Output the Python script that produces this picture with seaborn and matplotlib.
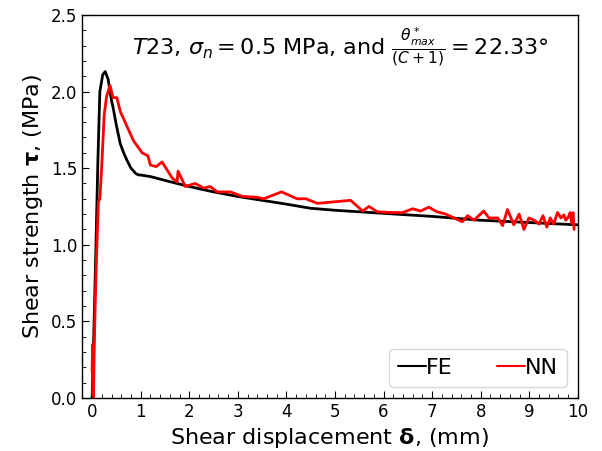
import numpy as np
import pandas as pd
import seaborn as sns
import matplotlib
matplotlib.use("Agg")
import matplotlib.pyplot as plt
from matplotlib.ticker import MultipleLocator

# FE curve (black)
fe_x = [0.0, 0.03, 0.05, 0.08, 0.12, 0.16, 0.22, 0.27, 0.33, 0.40, 0.43, 0.50, 0.58, 0.65, 0.72,
        0.80, 0.90, 0.95, 1.0, 1.2, 1.5, 2.0, 2.5, 3.0, 3.5, 4.0, 4.5, 5.0, 6.0, 7.0, 8.0, 9.0, 10.0]
fe_y = [0.0, 0.35, 0.6, 1.0, 1.55, 2.0, 2.11, 2.13, 2.08, 1.94, 1.90, 1.78, 1.66, 1.60, 1.55,
        1.50, 1.465, 1.456, 1.455, 1.445, 1.42, 1.38, 1.345, 1.315, 1.29, 1.265, 1.238, 1.225,
        1.205, 1.185, 1.16, 1.145, 1.13]

# NN curve (red)
nn_x = [0.0, 0.01, 0.015, 0.02, 0.025, 0.03, 0.04, 0.06, 0.08, 0.10, 0.13, 0.16, 0.20, 0.25, 0.30,
        0.37, 0.43, 0.51, 0.58, 0.68, 0.85, 1.03, 1.15, 1.20, 1.32, 1.44, 1.65, 1.75, 1.77,
        1.92, 2.12, 2.30, 2.43, 2.58, 2.85, 3.10, 3.40, 3.53, 3.90, 4.22, 4.40, 4.64, 5.32,
        5.57, 5.70, 5.87, 6.20, 6.39, 6.60, 6.76, 6.93, 7.10, 7.28, 7.45, 7.62, 7.73, 7.86,
        8.06, 8.17, 8.35, 8.45, 8.55, 8.68, 8.79, 8.89, 8.99, 9.10, 9.20, 9.28, 9.36, 9.43,
        9.50, 9.58, 9.65, 9.71, 9.75, 9.80, 9.84, 9.87, 9.90, 9.92]
nn_y = [0.17, 0.35, 0.12, 0.02, 0.08, 0.0, 0.25, 0.55, 0.80, 1.0, 1.28, 1.30, 1.52, 1.85, 1.97,
        2.04, 1.96, 1.96, 1.87, 1.80, 1.68, 1.60, 1.58, 1.52, 1.51, 1.54, 1.435, 1.41, 1.48,
        1.38, 1.40, 1.37, 1.38, 1.345, 1.345, 1.315, 1.31, 1.30, 1.345, 1.30, 1.30, 1.27, 1.29,
        1.22, 1.25, 1.215, 1.21, 1.21, 1.235, 1.22, 1.245, 1.215, 1.20, 1.175, 1.15, 1.19, 1.16,
        1.22, 1.175, 1.175, 1.125, 1.23, 1.13, 1.20, 1.10, 1.175, 1.16, 1.135, 1.19, 1.115, 1.175,
        1.135, 1.21, 1.175, 1.195, 1.16, 1.18, 1.21, 1.14, 1.21, 1.10]

fe = pd.DataFrame({"x": fe_x, "y": fe_y, "model": "FE"})
nn = pd.DataFrame({"x": nn_x, "y": nn_y, "model": "NN"})
df = pd.concat([fe, nn], ignore_index=True)

sns.set_style("ticks")
plt.rcParams['font.family'] = ['DejaVu Sans']
plt.rcParams['text.color'] = 'black'
plt.rcParams['axes.labelcolor'] = 'black'
plt.rcParams['xtick.color'] = 'black'
plt.rcParams['ytick.color'] = 'black'
plt.rcParams['axes.edgecolor'] = 'black'

fig = plt.figure(figsize=(6.02, 4.51), dpi=100)
ax = fig.add_axes([0.136, 0.1175, 0.824, 0.8495])

sns.lineplot(data=df, x="x", y="y", hue="model", palette={"FE": "black", "NN": "red"},
             sort=False, estimator=None, linewidth=2, ax=ax)

ax.set_xlim(-0.21, 10)
ax.set_ylim(0, 2.5)
ax.xaxis.set_major_locator(MultipleLocator(1))
ax.xaxis.set_minor_locator(MultipleLocator(0.2))
ax.yaxis.set_major_locator(MultipleLocator(0.5))
ax.yaxis.set_minor_locator(MultipleLocator(0.1))
ax.tick_params(which='both', direction='in', labelsize=12, colors='black')
ax.tick_params(which='major', length=5)
ax.tick_params(which='minor', length=3)
for s in ax.spines.values():
    s.set_linewidth(1.0)
    s.set_color('black')

ax.set_xlabel(r"Shear displacement $\mathbf{\delta}$, (mm)", fontsize=16, color='black')
ax.set_ylabel(r"Shear strength $\mathbf{\tau}$, (MPa)", fontsize=16, color='black')

ax.text(0.52, 0.915, r"$T23$, $\sigma_n = 0.5$ MPa, and $\frac{\theta^*_{max}}{(C+1)} = 22.33°$",
        transform=ax.transAxes, ha='center', va='center', fontsize=16, color='black')

leg = ax.legend(loc='lower right', ncol=2, fontsize=16, title=None,
                handlelength=1.25, handletextpad=0.0, columnspacing=2.0,
                borderaxespad=0.5)
for line in leg.get_lines():
    line.set_linewidth(1.5)
for t in leg.get_texts():
    t.set_color('black')

fig.savefig("out.png", dpi=100)
